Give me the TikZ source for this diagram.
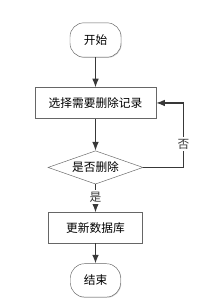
\documentclass[tikz,border=0pt]{standalone}
\usepackage{fontspec}
\setmainfont{Noto Sans CJK SC}
\usepackage{tikz}
\usetikzlibrary{shapes.geometric, arrows.meta, positioning, shadows, calc}
\definecolor{myline}{rgb}{0.22, 0.22, 0.22}
\definecolor{myborder}{rgb}{0.40, 0.40, 0.40}
\tikzstyle{softshadow} = [drop shadow={shadow xshift=0.6pt, shadow yshift=-0.6pt, fill=black, opacity=0.18}]
\tikzstyle{startstop} = [rectangle, rounded corners=0.42cm, minimum width=1.53cm, minimum height=1.03cm, text centered, draw=myborder, fill=white, softshadow]
\tikzstyle{process} = [rectangle, minimum height=0.92cm, text centered, draw=myborder, fill=white, softshadow]
\tikzstyle{decision} = [diamond, aspect=2.85, minimum width=2.85cm, minimum height=1cm, inner sep=1pt, text centered, draw=myborder, fill=white]
\tikzstyle{arrow} = [line width=1pt, myline, -{Latex[length=2.6mm, width=2mm]}]
\tikzstyle{branch} = [fill=white, inner sep=1.5pt]

\begin{document}
\begin{tikzpicture}[node distance=0.9cm, font=\fontsize{10}{12}\selectfont]
    \useasboundingbox (0,0) rectangle (6.51,-9.21);
    \node (start) [startstop] at (2.865,-1.2) {开始};
    \node (pick) [process, minimum width=3.63cm, below=0.9cm of start] {选择需要删除记录};
    \node (ask) [decision, below=0.96cm of pick] {是否删除};
    \node (upd) [process, minimum width=2.82cm, below=0.84cm of ask] {更新数据库};
    \node (stop) [startstop, minimum height=1cm, minimum width=1.5cm, below=0.6cm of upd] {结束};
    \coordinate (back) at ($(pick.east)+(0.82,0)$);
    \draw[arrow] (start) -- (pick);
    \draw[arrow] (pick) -- (ask);
    \draw[arrow] (ask) -- node[branch, pos=0.45] {是} (upd);
    \draw[arrow] (ask) -| node[branch, pos=0.68] {否} (back) -- (pick);
    \draw[arrow] (upd) -- (stop);
\end{tikzpicture}
\end{document}
